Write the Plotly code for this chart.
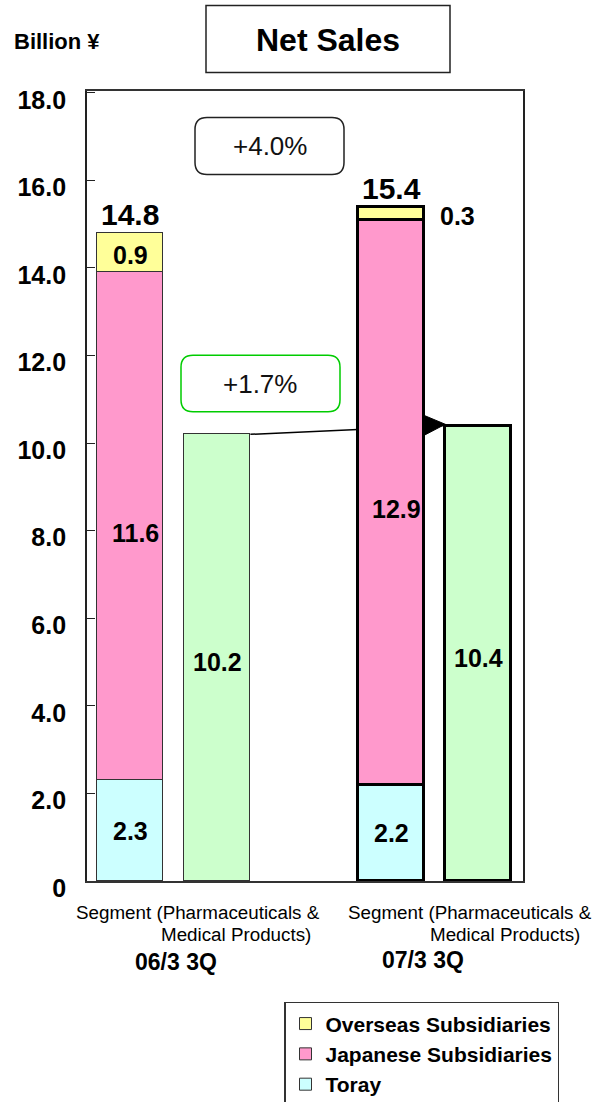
import plotly.graph_objects as go

# ---- data (billion yen) ----
periods = ["06/3 3Q", "07/3 3Q"]
segment_label = ["Segment (Pharmaceuticals &", "Medical Products)"]
toray = [2.3, 2.2]
japanese_subs = [11.6, 12.9]
overseas_subs = [0.9, 0.3]
segment_sales = [10.2, 10.4]
total_sales = [14.8, 15.4]
growth_total = "+4.0%"
growth_segment = "+1.7%"
y_ticks = [0, 2, 4, 6, 8, 10, 12, 14, 16, 18]
y_ticktext = ["0", "2.0", "4.0", "6.0", "8.0", "10.0", "12.0", "14.0", "16.0", "18.0"]

# ---- layout constants ----
W, H = 592, 1102
PL, PR, PT, PB = 87, 523, 90.5, 881          # plot area in pixels
STACK_X = [0, 3]                              # slot of stacked bars
SEG_X = [1, 4]                                # slot of segment bars
BAR_W = 0.76
XR = [-0.498, 4.514]
YR = [0, 18.04]
FONT = "Liberation Sans, Arial, sans-serif"
C_TORAY, C_JP, C_OS, C_SEG = "#ccffff", "#ff99cc", "#ffff99", "#ccffcc"
EDGE = ["#333333", "#000000"]
EDGE_W = [1.0, 3.5]


def px(x):
    return (x - PL) / (PR - PL)


def py(y):
    return (PB - y) / (PB - PT)


def rounded_box(x0, y0, x1, y1, r):
    """SVG path (paper coords) for a rounded rectangle given in pixels."""
    pts = [
        f"M{px(x0 + r)},{py(y0)}",
        f"L{px(x1 - r)},{py(y0)}",
        f"Q{px(x1)},{py(y0)} {px(x1)},{py(y0 + r)}",
        f"L{px(x1)},{py(y1 - r)}",
        f"Q{px(x1)},{py(y1)} {px(x1 - r)},{py(y1)}",
        f"L{px(x0 + r)},{py(y1)}",
        f"Q{px(x0)},{py(y1)} {px(x0)},{py(y1 - r)}",
        f"L{px(x0)},{py(y0 + r)}",
        f"Q{px(x0)},{py(y0)} {px(x0 + r)},{py(y0)}",
        "Z",
    ]
    return " ".join(pts)


def text_at(cx, cy, text, font, xanchor="center"):
    """Free text placed by pixel position on the page."""
    return dict(xref="paper", yref="paper", x=px(cx), y=py(cy), text=text, showarrow=False,
                xanchor=xanchor, yanchor="middle", font=font)


fig = go.Figure()

for name, vals, col in [
    ("Toray", toray, C_TORAY),
    ("Japanese Subsidiaries", japanese_subs, C_JP),
    ("Overseas Subsidiaries", overseas_subs, C_OS),
]:
    fig.add_trace(go.Bar(
        x=STACK_X, y=vals, name=name, width=BAR_W,
        marker=dict(color=col, line=dict(color=EDGE, width=EDGE_W)),
        hoverinfo="skip",
    ))

fig.add_trace(go.Bar(
    x=SEG_X, y=segment_sales, name="Segment", width=BAR_W, showlegend=False,
    marker=dict(color=C_SEG, line=dict(color=EDGE, width=EDGE_W)),
    hoverinfo="skip",
))

ann = []
lab_font = dict(family=FONT, size=25, color="black", weight="bold")
tot_font = dict(family=FONT, size=30, color="black", weight="bold")


def value_label(x, y, text, **kw):
    d = dict(x=x, y=y, text=text, showarrow=False, xanchor="center", yanchor="middle", font=lab_font)
    d.update(kw)
    return d


# value labels on the stacked bars
for i, xs in enumerate(STACK_X):
    ann.append(value_label(xs, toray[i] / 2, f"{toray[i]:.1f}"))
    ann.append(value_label(xs, toray[i] + japanese_subs[i] / 2 - 0.15, f"{japanese_subs[i]:.1f}", xshift=5))
    ann.append(value_label(xs, total_sales[i], f"{total_sales[i]:.1f}", yanchor="bottom", yshift=0,
                           font=tot_font))

# overseas labels: inside for the first bar, beside the thin second one
ann.append(value_label(STACK_X[0], toray[0] + japanese_subs[0] + overseas_subs[0] / 2,
                       f"{overseas_subs[0]:.1f}", yshift=-2))
ann.append(value_label(STACK_X[1] + BAR_W / 2, toray[1] + japanese_subs[1] + overseas_subs[1] / 2,
                       f"{overseas_subs[1]:.1f}", xanchor="left", xshift=14, yshift=-3))

# segment bar labels
for i, xs in enumerate(SEG_X):
    ann.append(value_label(xs, segment_sales[i] / 2 - 0.1, f"{segment_sales[i]:.1f}"))

# category text under the axis
cat_font = dict(family=FONT, size=18.8, color="black")
per_font = dict(family=FONT, size=23, color="black", weight="bold")
for cx, rx in [(198, 313), (470, 582)]:
    ann.append(text_at(cx, 913, segment_label[0], cat_font))
    ann.append(text_at(rx, 935, segment_label[1], cat_font, xanchor="right"))
ann.append(text_at(176, 962, periods[0], per_font))
ann.append(text_at(423, 960, periods[1], per_font))

# titles and growth rates
ann.append(text_at(57, 41, "Billion ¥", dict(family=FONT, size=22, color="black", weight="bold")))
ann.append(text_at(328, 39, "Net Sales", dict(family=FONT, size=32, color="black", weight="bold")))
ann.append(text_at(269.5, 146, growth_total, dict(family=FONT, size=26, color="#111111")))
ann.append(text_at(260, 384, growth_segment, dict(family=FONT, size=26, color="#111111")))

shapes = [
    dict(type="rect", xref="paper", yref="paper", x0=px(206), x1=px(450), y0=py(5), y1=py(72),
         line=dict(color="#222222", width=1.5), fillcolor="white", layer="below"),
    dict(type="path", xref="paper", yref="paper", path=rounded_box(195, 117, 344, 174, 12),
         line=dict(color="#222222", width=1.5), fillcolor="white"),
    dict(type="path", xref="paper", yref="paper", path=rounded_box(181, 355, 340, 411.5, 12),
         line=dict(color="#00cc00", width=1.5), fillcolor="white"),
    # connector from the earlier segment bar to the later one (runs behind the stack)
    dict(type="line", xref="x", yref="y", layer="below",
         x0=SEG_X[0] + BAR_W / 2, y0=segment_sales[0],
         x1=SEG_X[1] - BAR_W / 2, y1=segment_sales[1],
         line=dict(color="black", width=1.5)),
]
# arrow head pointing at the later segment bar
ax0 = STACK_X[1] + BAR_W / 2
ax1 = SEG_X[1] - BAR_W / 2
ay = segment_sales[1]
shapes.append(dict(type="path", xref="x", yref="y", layer="above",
                   path=f"M{ax0},{ay + 0.23} L{ax1},{ay + 0.03} L{ax0},{ay - 0.22} Z",
                   line=dict(color="black", width=1), fillcolor="black"))

fig.update_layout(
    width=W, height=H,
    margin=dict(l=PL, r=W - PR, t=PT, b=H - PB, pad=0, autoexpand=False),
    paper_bgcolor="white", plot_bgcolor="white",
    barmode="stack", bargap=0,
    showlegend=True,
    legend=dict(
        x=px(284), y=py(1002), xanchor="left", yanchor="top",
        traceorder="reversed", bgcolor="white",
        bordercolor="#333333", borderwidth=1.5,
        font=dict(family=FONT, size=21, color="black", weight="bold"),
        itemclick=False, itemdoubleclick=False, itemwidth=30,
        tracegroupgap=0,
    ),
    xaxis=dict(range=XR, showticklabels=False, ticks="", showgrid=False, zeroline=False,
               showline=True, linecolor="#333333", linewidth=1.5, mirror=True, fixedrange=True),
    yaxis=dict(range=YR, tickvals=y_ticks, ticktext=y_ticktext, ticks="inside", ticklen=8,
               tickcolor="#222222", tickwidth=1.2, showgrid=False, zeroline=False,
               showline=True, linecolor="#222222", linewidth=1.8, mirror=True,
               ticklabelstandoff=14, ticklabelshift=7,
               tickfont=dict(family=FONT, size=25, color="black", weight="bold"), fixedrange=True),
    annotations=ann,
    shapes=shapes,
)

fig.write_html("out.html")
